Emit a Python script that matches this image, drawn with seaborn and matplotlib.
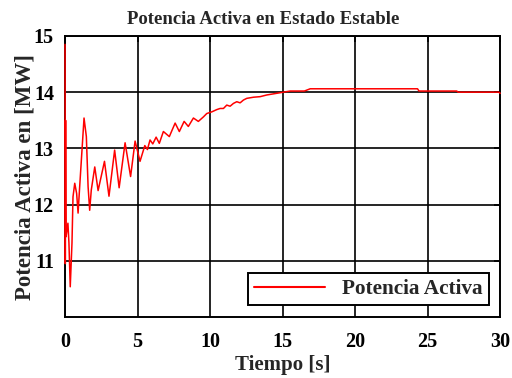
import matplotlib
matplotlib.use("Agg")
import matplotlib.pyplot as plt
import seaborn as sns
import pandas as pd

# Active power response (time in s, power in MW)
tiempo = [0.00, 0.02, 0.04, 0.07, 0.20, 0.27, 0.36, 0.48, 0.55, 0.67, 0.80, 0.90,
          1.01, 1.17, 1.31, 1.47, 1.59, 1.70, 1.81, 2.05, 2.28, 2.72, 3.03, 3.42,
          3.73, 4.14, 4.52, 4.83, 5.17, 5.50, 5.68, 5.86, 6.05, 6.28, 6.50, 6.78,
          7.19, 7.59, 7.88, 8.21, 8.50, 8.85, 9.19, 9.54, 9.77, 10.12, 10.46, 10.69,
          10.92, 11.15, 11.38, 11.61, 11.84, 12.07, 12.30, 12.53, 12.99, 13.45, 13.91,
          14.60, 15.06, 15.52, 16.50, 16.90, 24.30, 24.40, 27.00, 27.10, 29.90, 30.00]
potencia = [14.85, 10.95, 13.50, 11.43, 11.67, 11.32, 10.54, 11.32, 12.14, 12.38, 12.20, 11.85,
            12.32, 12.97, 13.54, 13.21, 12.32, 11.90, 12.26, 12.67, 12.25, 12.77, 12.15, 12.97,
            12.30, 13.10, 12.50, 13.13, 12.77, 13.05, 12.98, 13.15, 13.08, 13.20, 13.09, 13.30,
            13.21, 13.45, 13.30, 13.48, 13.39, 13.54, 13.48, 13.56, 13.62, 13.65, 13.69, 13.71,
            13.71, 13.77, 13.75, 13.80, 13.83, 13.81, 13.86, 13.89, 13.91, 13.92, 13.95,
            13.98, 14.00, 14.02, 14.02, 14.06, 14.06, 14.02, 14.02, 14.00, 14.00, 13.98]

x_ticks = [0, 5, 10, 15, 20, 25, 30]
y_ticks = [11, 12, 13, 14, 15]

df = pd.DataFrame({"Tiempo": tiempo, "Potencia": potencia})

sns.set_theme(style="white")
plt.rcParams["font.family"] = ["Liberation Serif", "DejaVu Serif"]
plt.rcParams["font.weight"] = "bold"

fig = plt.figure(figsize=(5.12, 3.78), dpi=100)
ax = fig.add_axes([0.127, 0.161, 0.850, 0.744])

sns.lineplot(data=df, x="Tiempo", y="Potencia", ax=ax, color="#ff0000",
             linewidth=1.1, label="Potencia Activa", estimator=None, sort=False,
             zorder=3, clip_on=False)

ax.set_xlim(0, 30)
ax.set_ylim(10, 15)
ax.set_xticks(x_ticks)
ax.set_yticks(y_ticks)
ax.grid(True, color="black", linewidth=1.2)
ax.set_axisbelow(True)
for s in ax.spines.values():
    s.set_color("black")
    s.set_linewidth(1.4)
ax.tick_params(direction="in", length=4, labelsize=14.5, colors="black",
               top=True, right=True)
ax.tick_params(axis="x", pad=11)
ax.tick_params(axis="y", pad=8)
for lbl in ax.get_xticklabels() + ax.get_yticklabels():
    lbl.set_fontweight("bold")

fig.text(0.515, 0.937, "Potencia Activa en Estado Estable", fontsize=13.5,
         fontweight="bold", ha="center", va="baseline")
ax.set_xlabel("Tiempo [s]", fontsize=15, fontweight="bold", labelpad=1.5)
ax.set_ylabel("Potencia Activa en [MW]", fontsize=16.5, fontweight="bold", labelpad=-1)

leg = ax.legend(loc="lower right", handlelength=3.3, fancybox=False,
                framealpha=1, edgecolor="black", borderaxespad=0.55, borderpad=0.3,
                prop={"weight": "bold", "size": 15.3})
leg.get_frame().set_linewidth(1.4)
for line in leg.get_lines():
    line.set_linewidth(1.5)

fig.savefig("out.png", dpi=100)
